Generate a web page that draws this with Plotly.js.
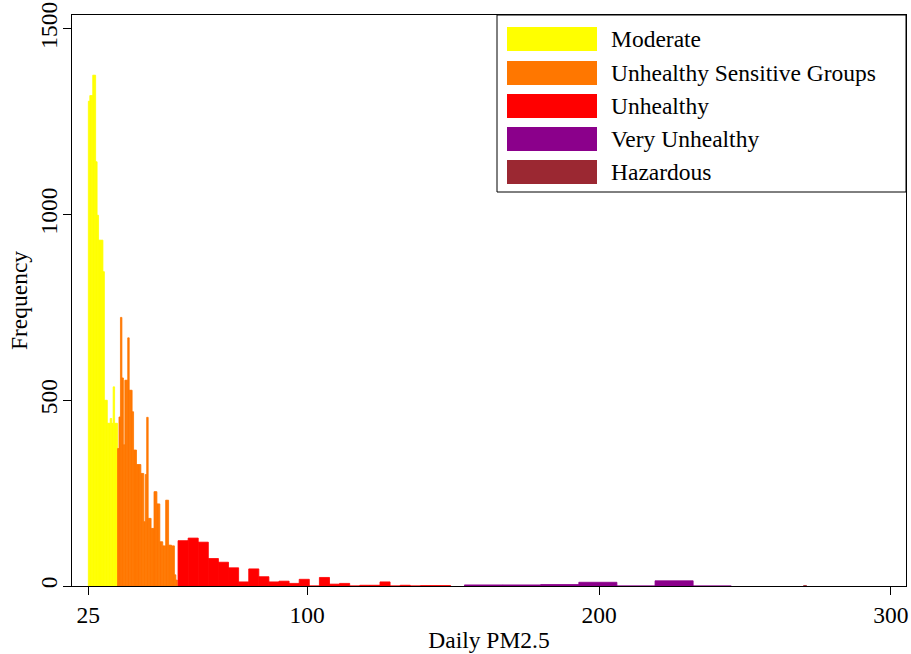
<!DOCTYPE html>
<html>
<head>
<meta charset="utf-8">
<script src="https://cdn.plot.ly/plotly-3.0.1.min.js"></script>
<style>
  html, body { margin: 0; padding: 0; background: #fff; }
  #chart { width: 911px; height: 654px; }
</style>
</head>
<body>
<div id="chart"></div>
<script>
// ---- Data ----
const categories = ['Moderate', 'Unhealthy Sensitive Groups', 'Unhealthy', 'Very Unhealthy', 'Hazardous'];

const moderateBinStart = 25.0;
const moderateBinWidth = 0.5;
const moderateCounts = [1305, 1320, 1320, 1375, 1375, 1142, 998, 931, 931, 931,
                        846, 500, 500, 438, 438, 451, 438, 536, 438, 438];

const sensitiveBinStart = 35.0;
const sensitiveBinWidth = 0.5;
const sensitiveCounts = [370, 455, 723, 560, 380, 554, 554, 668, 527, 527,
                         469, 366, 366, 327, 327, 327, 303, 303, 173, 300,
                         454, 182, 182, 155, 155, 254, 254, 221, 221, 119,
                         119, 108, 108, 231, 231, 110, 110, 108, 108, 30, 16];

const unhealthyBinStart = 55.74;
const unhealthyBinWidth = 3.46;
const unhealthyCounts = [122, 129, 118, 74, 64, 49, 11, 46, 25, 11,
                         13, 7, 18, 0, 23, 5, 7, 0, 2, 2,
                         11, 0, 2, 0, 1, 1, 1];

const veryUnhealthyBinStart = 153.9;
const veryUnhealthyBinWidth = 13.06;
const veryUnhealthyCounts = [3, 3, 4, 10, 0, 14, 0];

const hazardousBinStart = 270.1;
const hazardousBinWidth = 1.0;
const hazardousCounts = [1];

const xTickValues = [25, 100, 200, 300];
const xTickLabels = ['25', '100', '200', '300'];
const yTickValues = [0, 500, 1000, 1500];
const yTickLabels = ['0', '500', '1000', '1500'];

// ---- Styles ----
const colors = ['#FFFF00', '#FF7700', '#FF0000', '#8B008B', '#9B2832'];
const FONT = 'Liberation Serif, Times New Roman, serif';
const FS = 23.5;

const groups = [
  [moderateBinStart, moderateBinWidth, moderateCounts],
  [sensitiveBinStart, sensitiveBinWidth, sensitiveCounts],
  [unhealthyBinStart, unhealthyBinWidth, unhealthyCounts],
  [veryUnhealthyBinStart, veryUnhealthyBinWidth, veryUnhealthyCounts],
  [hazardousBinStart, hazardousBinWidth, hazardousCounts]
];

const traces = groups.map((g, i) => {
  const [start, w, counts] = g;
  return {
    type: 'bar',
    name: categories[i],
    x: counts.map((_, k) => start + w * (k + 0.5)),
    y: counts,
    width: counts.map(() => w),
    marker: { color: colors[i], line: { color: colors[i], width: 0.8 } },
    showlegend: false,
    hoverinfo: 'x+y+name'
  };
});

// ---- Plot geometry (pixels) ----
const W = 911, H = 654;
const M = { l: 72, r: 5, t: 15, b: 68 };
const pw = W - M.l - M.r, ph = H - M.t - M.b;
const px2x = p => (p - M.l) / pw;
const py2y = p => (H - M.b - p) / ph;

// Manual legend (wide swatches like the reference)
const shapes = [];
const annotations = [];
shapes.push({
  type: 'rect', xref: 'paper', yref: 'paper',
  x0: px2x(497), x1: px2x(906), y0: py2y(192), y1: py2y(15),
  line: { color: '#000', width: 1 }, fillcolor: '#fff', layer: 'above'
});
const rowCenters = [39, 73, 106, 139, 172];
categories.forEach((c, i) => {
  const cy = rowCenters[i];
  shapes.push({
    type: 'rect', xref: 'paper', yref: 'paper',
    x0: px2x(507), x1: px2x(597), y0: py2y(cy + 12), y1: py2y(cy - 12),
    line: { width: 0 }, fillcolor: colors[i], layer: 'above'
  });
  annotations.push({
    xref: 'paper', yref: 'paper', x: px2x(609), y: py2y(cy),
    xanchor: 'left', yanchor: 'middle', showarrow: false,
    text: c, font: { family: FONT, size: FS, color: '#000' }
  });
});

const layout = {
  width: W, height: H,
  margin: M,
  paper_bgcolor: '#fff', plot_bgcolor: '#fff',
  barmode: 'overlay',
  showlegend: false,
  font: { family: FONT, size: FS, color: '#000' },
  xaxis: {
    range: [19.4, 305.2],
    tickmode: 'array', tickvals: xTickValues, ticktext: xTickLabels,
    ticks: 'outside', ticklen: 8, tickwidth: 1, tickcolor: '#000',
    showline: true, mirror: true, linecolor: '#000', linewidth: 1.2,
    showgrid: false, zeroline: false,
    tickfont: { family: FONT, size: FS, color: '#000' },
    title: { text: 'Daily PM2.5', font: { family: FONT, size: FS, color: '#000' }, standoff: 4 }
  },
  yaxis: {
    range: [0, 1537],
    tickmode: 'array', tickvals: yTickValues, ticktext: yTickLabels,
    tickangle: -90,
    ticklabelstandoff: -4,
    ticks: 'outside', ticklen: 8, tickwidth: 1, tickcolor: '#000',
    showline: true, mirror: true, linecolor: '#000', linewidth: 1.2,
    showgrid: false, zeroline: false,
    tickfont: { family: FONT, size: FS, color: '#000' },
    title: { text: 'Frequency', font: { family: FONT, size: FS, color: '#000' }, standoff: 2 }
  },
  shapes: shapes,
  annotations: annotations
};

Plotly.newPlot('chart', traces, layout, { displayModeBar: false, staticPlot: true });
</script>
</body>
</html>
